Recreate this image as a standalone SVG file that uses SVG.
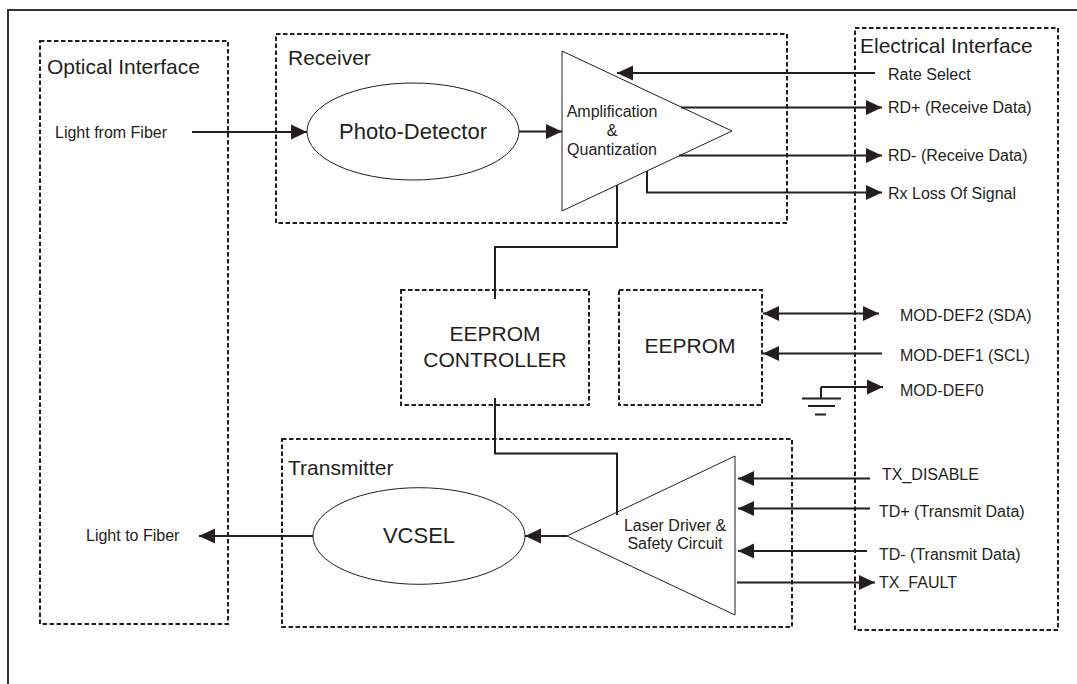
<svg xmlns="http://www.w3.org/2000/svg" width="1077" height="684" viewBox="0 0 1077 684">
<style>
text{font-family:"Liberation Sans",Arial,sans-serif;fill:#231f20}
.box{fill:none;stroke:#231f20;stroke-width:2;stroke-dasharray:4.5 2.5}
.shape{fill:#fff;stroke:#231f20;stroke-width:1}
.ln{fill:none;stroke:#231f20;stroke-width:2}
.t16{font-size:16px}
.t21{font-size:21px}
.t22{font-size:22px}
</style>
<defs>
<marker id="ah" markerUnits="userSpaceOnUse" markerWidth="17" markerHeight="15" refX="16" refY="7.5" orient="auto" overflow="visible">
<path d="M0,0 L16,7.5 L0,15 Z" fill="#231f20"/>
</marker>
<marker id="ahs" markerUnits="userSpaceOnUse" markerWidth="17" markerHeight="15" refX="0" refY="7.5" orient="auto" overflow="visible">
<path d="M16,0 L0,7.5 L16,15 Z" fill="#231f20"/>
</marker>
</defs>
<rect width="1077" height="684" fill="#fff"/>
<path d="M8,700 L8,10 L1090,10" fill="none" stroke="#333" stroke-width="2"/>

<g id="optical-interface">
<rect class="box" x="40" y="41" width="188" height="583"/>
<text class="t21" x="47" y="74">Optical Interface</text>
<text class="t16" x="55" y="138">Light from Fiber</text>
<text class="t16" x="86" y="541">Light to Fiber</text>
</g>

<g id="receiver">
<rect class="box" x="276" y="34" width="511" height="189"/>
<text class="t21" x="288" y="65">Receiver</text>
</g>

<g id="photo-detector">
<ellipse class="shape" cx="413" cy="131.5" rx="106" ry="48.5"/>
<text class="t22" x="413" y="139" text-anchor="middle">Photo-Detector</text>
</g>

<g id="amplifier">
<polygon class="shape" points="562,51 562,211 732,131"/>
<text class="t16" x="612" y="117" text-anchor="middle">Amplification</text>
<text class="t16" x="612" y="136" text-anchor="middle">&amp;</text>
<text class="t16" x="612" y="155" text-anchor="middle">Quantization</text>
</g>

<g id="electrical-interface">
<rect class="box" x="855" y="28" width="203" height="602"/>
<text class="t21" x="860" y="53">Electrical Interface</text>
<text class="t16" x="888" y="80">Rate Select</text>
<text class="t16" x="888" y="113">RD+ (Receive Data)</text>
<text class="t16" x="888" y="161">RD- (Receive Data)</text>
<text class="t16" x="888" y="199">Rx Loss Of Signal</text>
<text class="t16" x="900" y="321">MOD-DEF2 (SDA)</text>
<text class="t16" x="900" y="361">MOD-DEF1 (SCL)</text>
<text class="t16" x="900" y="396">MOD-DEF0</text>
<text class="t16" x="882" y="480">TX_DISABLE</text>
<text class="t16" x="879" y="517">TD+ (Transmit Data)</text>
<text class="t16" x="879" y="560">TD- (Transmit Data)</text>
<text class="t16" x="879" y="588">TX_FAULT</text>
</g>

<g id="eeprom-controller">
<rect class="box" x="401" y="290" width="188" height="115"/>
<text class="t21" x="495" y="341" text-anchor="middle">EEPROM</text>
<text class="t21" x="495" y="367" text-anchor="middle">CONTROLLER</text>
</g>

<g id="eeprom">
<rect class="box" x="619" y="290" width="143" height="115"/>
<text class="t21" x="690" y="353" text-anchor="middle">EEPROM</text>
</g>

<g id="transmitter">
<rect class="box" x="282" y="439" width="510" height="188"/>
<text class="t21" x="288" y="475">Transmitter</text>
</g>

<g id="vcsel">
<ellipse class="shape" cx="419" cy="536" rx="106" ry="48.3"/>
<text class="t22" x="419" y="543" text-anchor="middle">VCSEL</text>
</g>

<g id="laser-driver">
<polygon class="shape" points="567,536 735,456 735,615"/>
<text class="t16" x="675" y="531" text-anchor="middle">Laser Driver &amp;</text>
<text class="t16" x="675" y="549" text-anchor="middle">Safety Circuit</text>
</g>

<g id="ground">
<path class="ln" d="M821,399 L821,387" stroke-width="1.5"/>
<path d="M802,398.5 L841,398.5 M808,406 L835,406 M815,414.5 L826,414.5" stroke="#231f20" stroke-width="1.8" fill="none"/>
</g>

<g id="connectors">
<path class="ln" d="M192,132 L307,132" marker-end="url(#ah)"/>
<path class="ln" d="M519,131.5 L562,131.5" marker-end="url(#ah)"/>
<path class="ln" d="M875,73 L617,73" marker-end="url(#ah)"/>
<path class="ln" d="M681,107.5 L882,107.5" marker-end="url(#ah)"/>
<path class="ln" d="M679,155.5 L882,155.5" marker-end="url(#ah)"/>
<path class="ln" d="M647,171 L647,192.5 L882,192.5" marker-end="url(#ah)"/>
<path class="ln" d="M617,185 L617,247 L495,247 L495,299"/>
<path class="ln" d="M763,313.5 L879,313.5" marker-start="url(#ahs)" marker-end="url(#ah)"/>
<path class="ln" d="M882,353.5 L763,353.5" marker-end="url(#ah)"/>
<path class="ln" d="M821,387 L883,387" stroke-width="1.8" marker-end="url(#ah)"/>
<path class="ln" d="M495,398 L495,453.5 L617,453.5 L617,515"/>
<path class="ln" d="M870,478.5 L738,478.5" marker-end="url(#ah)"/>
<path class="ln" d="M870,508.5 L738,508.5" marker-end="url(#ah)"/>
<path class="ln" d="M867,551 L738,551" marker-end="url(#ah)"/>
<path class="ln" d="M737,582.5 L875,582.5" marker-end="url(#ah)"/>
<path class="ln" d="M567,536 L525,536" marker-end="url(#ah)"/>
<path class="ln" d="M313,536 L199,536" marker-end="url(#ah)"/>
</g>
</svg>
